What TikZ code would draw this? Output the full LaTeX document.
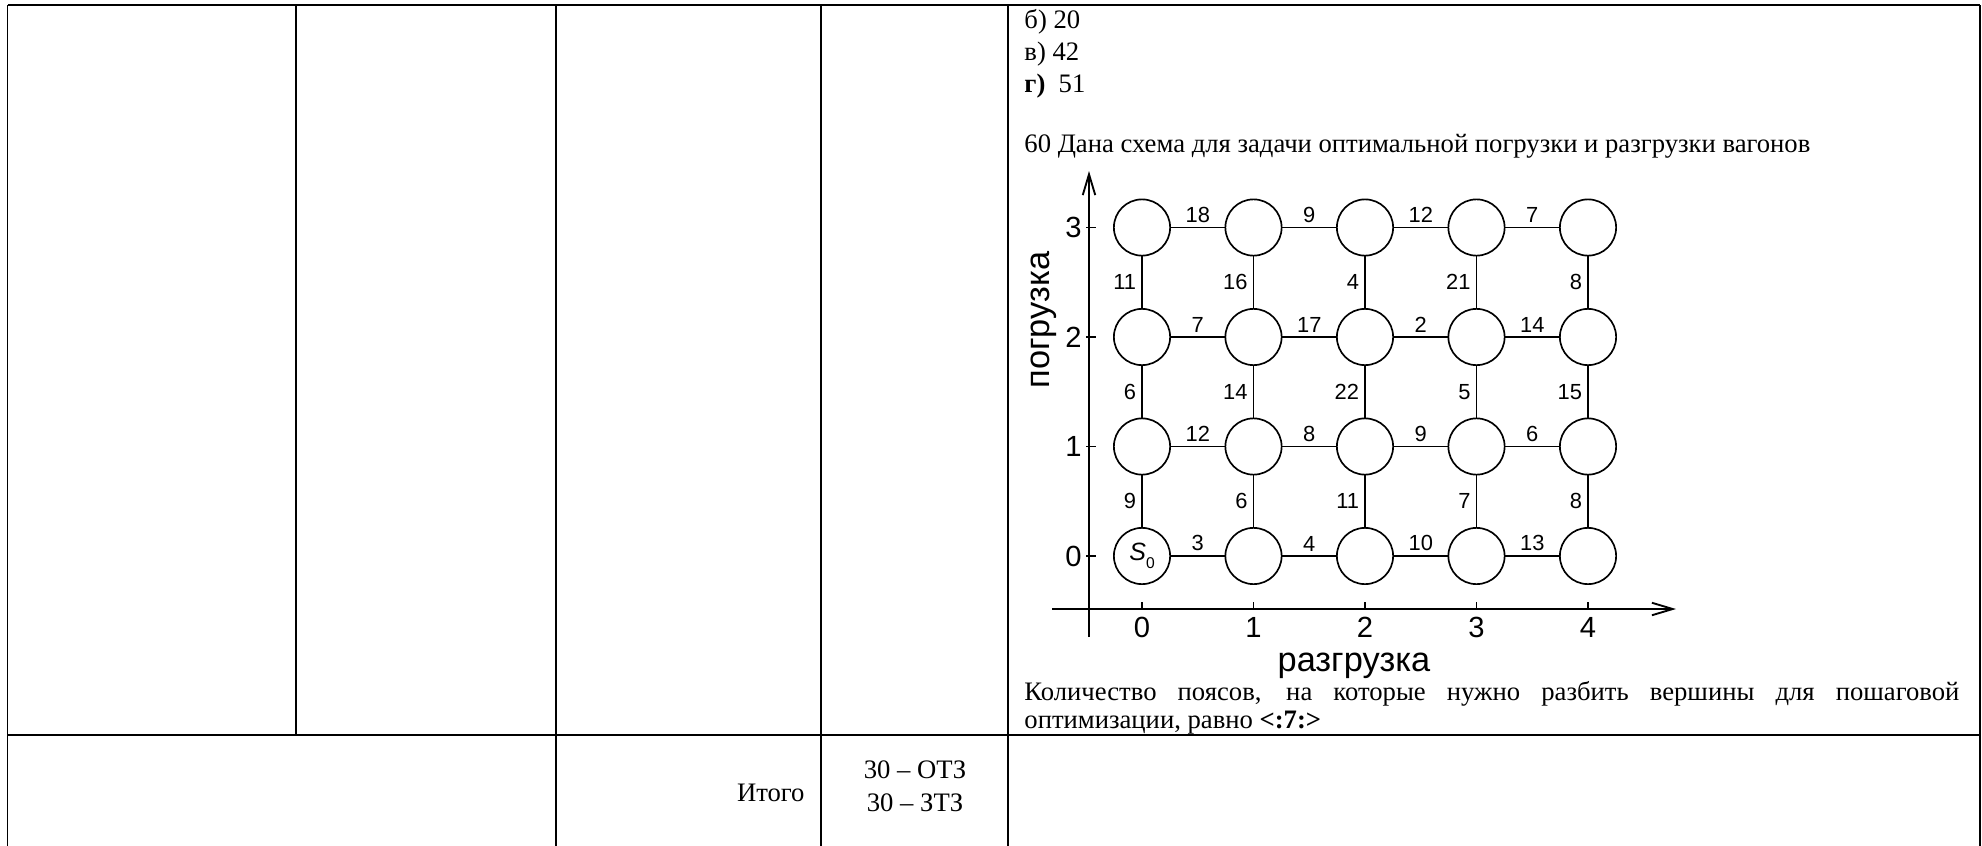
\documentclass[tikz,border=0pt]{standalone}
\usepackage{fontspec}
\setmainfont{Liberation Serif}
\newfontfamily\sansf{Liberation Sans}
\usetikzlibrary{arrows.meta}
\tikzset{
  tabline/.style={line width=0.7pt},
  tabouter/.style={line width=0.9pt},
  tabsep/.style={line width=1.2pt},
  vtx/.style={circle,draw,line width=0.8pt,minimum size=27pt,inner sep=0pt},
  gedge/.style={line width=0.8pt},
  axisline/.style={line width=0.9pt},
  tickline/.style={line width=0.8pt},
  hlab/.style={font=\sansf\fontsize{10.5}{12}\selectfont,anchor=south,inner sep=2pt},
  vlab/.style={font=\sansf\fontsize{10.5}{12}\selectfont,anchor=east,inner sep=2pt,xshift=-0.5pt},
  ticklab/.style={font=\sansf\fontsize{14}{16}\selectfont,inner sep=0pt},
  axtitle/.style={font=\sansf\fontsize{16.5}{19}\selectfont,inner sep=0pt},
  txt/.style={font=\fontsize{12.8}{15}\selectfont,anchor=base west,inner sep=0pt},
  arr/.style={-{Straight Barb[length=10pt,width=6pt]}},
}
\begin{document}
\begin{tikzpicture}[x=0.48pt,y=-0.48pt]
\useasboundingbox (0,0) rectangle (1982,846);
% table
\draw[tabouter] (7.5,5) -- (1980,5);
\draw[tabouter] (7.5,5) -- (7.5,846);
\draw[tabouter] (1980,5) -- (1980,846);
\draw[tabsep] (7.5,735) -- (1980,735);
\draw[tabline] (296,5) -- (296,735);
\draw[tabline] (556,5) -- (556,846);
\draw[tabline] (821,5) -- (821,846);
\draw[tabline] (1008,5) -- (1008,846);
% texts
\node[txt] (ansb) at (1024,28) {б) 20};
\node[txt] (ansv) at (1024,60) {в) 42};
\node[txt] (ansg) at (1024,92) {\textbf{г)}\ \ 51};
\node[txt] (q60) at (1024,152) {60 Дана схема для задачи оптимальной погрузки и разгрузки вагонов};
\node[txt] (qa) at (1024,700) {\makebox[448.8pt][s]{Количество поясов, на которые нужно разбить вершины для пошаговой}};
\node[txt] (qb) at (1024,728) {оптимизации, равно \textbf{<:7:>}};
\node[txt,anchor=base east] (itogo) at (805,801) {Итого};
\node[txt,anchor=base] (otz) at (915,778) {30 – ОТЗ};
\node[txt,anchor=base] (ztz) at (915,811) {30 – ЗТЗ};
% axes
\coordinate (yb) at (1089,637);
\coordinate (yt) at (1089,171);
\coordinate (xl) at (1052,609);
\coordinate (xr) at (1676,609);
\draw[axisline,arr] (yb) -- (yt);
\draw[axisline,arr] (xl) -- (xr);
\foreach \c in {0,...,4}{
  \coordinate (xt\c) at ({1142+111.5*\c},609);
  \coordinate (xu\c) at ({1142+111.5*\c},602);
  \draw[tickline] (xt\c) -- (xu\c);
  \node[ticklab] (xl\c) at ({1142+111.5*\c},627) {\c};
}
\foreach \r in {0,...,3}{
  \coordinate (ya\r) at (1086,{556-109.5*\r});
  \coordinate (yc\r) at (1096,{556-109.5*\r});
  \draw[tickline] (ya\r) -- (yc\r);
  \node[ticklab,anchor=east] (yl\r) at (1082,{556-109.5*\r}) {\r};
}
\node[axtitle] (xtitle) at (1354,666) {разгрузка};
\node[axtitle,rotate=90] (ytitle) at (1044,320) {погрузка};
% vertices
\foreach \c in {0,...,4}{
  \foreach \r in {0,...,3}{
    \node[vtx] (n-\c-\r) at ({1142+111.5*\c},{556-109.5*\r}) {};
  }
}
\node[inner sep=0pt,font=\sansf\fontsize{12}{14}\selectfont] (s0) at (n-0-0.center) {\textit{S}\raisebox{-0.6ex}{\fontsize{7.5}{8}\selectfont 0}};
% horizontal edges
\foreach \c/\r/\w in {0/3/18,1/3/9,2/3/12,3/3/7,
                      0/2/7,1/2/17,2/2/2,3/2/14,
                      0/1/12,1/1/8,2/1/9,3/1/6,
                      0/0/3,1/0/4,2/0/10,3/0/13}{
  \pgfmathtruncatemacro\cn{\c+1}
  \draw[gedge] (n-\c-\r) -- node[hlab] {\w} (n-\cn-\r);
}
% vertical edges
\foreach \c/\r/\w in {0/0/9,0/1/6,0/2/11,
                      1/0/6,1/1/14,1/2/16,
                      2/0/11,2/1/22,2/2/4,
                      3/0/7,3/1/5,3/2/21,
                      4/0/8,4/1/15,4/2/8}{
  \pgfmathtruncatemacro\rn{\r+1}
  \draw[gedge] (n-\c-\r) -- node[vlab] {\w} (n-\c-\rn);
}
\end{tikzpicture}
\end{document}
